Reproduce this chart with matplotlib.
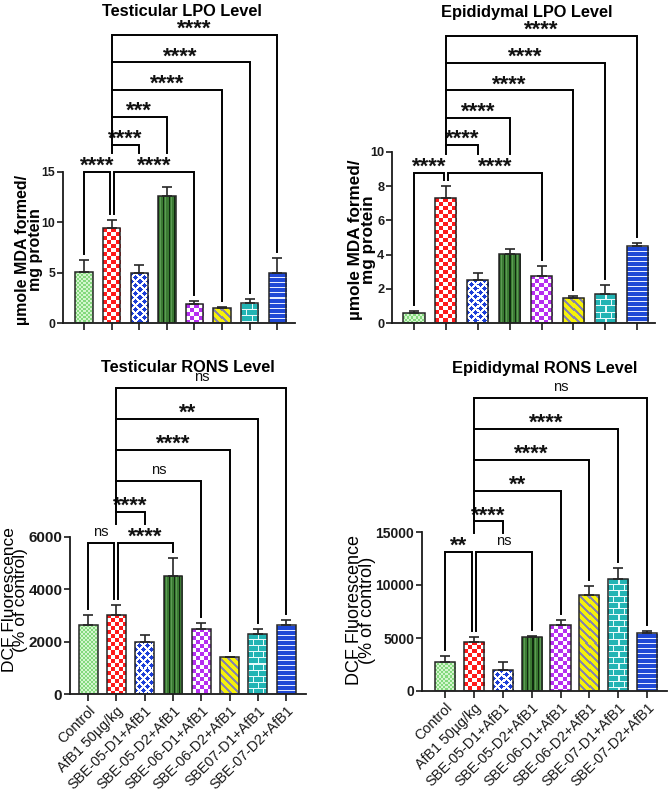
import numpy as np
import matplotlib
matplotlib.use('Agg')
import matplotlib.pyplot as plt
from matplotlib.colors import to_rgb
from matplotlib.transforms import offset_copy

plt.rcParams['font.family'] = ['Liberation Sans', 'DejaVu Sans']

# ---------------- data ----------------
groups_t = ['Control', 'AfB1 50\u00b5g/kg', 'SBE-05-D1+AfB1', 'SBE-05-D2+AfB1',
            'SBE-06-D1+AfB1', 'SBE-06-D2+AfB1', 'SBE07-D1+AfB1', 'SBE-07-D2+AfB1']
groups_e = ['Control', 'AfB1 50\u00b5g/kg', 'SBE-05-D1+AfB1', 'SBE-05-D2+AfB1',
            'SBE-06-D1+AfB1', 'SBE-06-D2+AfB1', 'SBE-07-D1+AfB1', 'SBE-07-D2+AfB1']

tlpo_mean = [5.05, 9.4, 4.95, 12.65, 1.85, 1.45, 1.95, 5.0]
tlpo_sem = [1.2, 0.85, 0.85, 0.85, 0.3, 0.12, 0.45, 1.45]
elpo_mean = [0.6, 7.3, 2.5, 4.05, 2.75, 1.45, 1.7, 4.5]
elpo_sem = [0.08, 0.72, 0.42, 0.3, 0.6, 0.15, 0.55, 0.15]
trons_mean = [2620, 3020, 2000, 4500, 2500, 1400, 2300, 2620]
trons_sem = [400, 400, 250, 680, 230, 30, 200, 220]
erons_mean = [2740, 4650, 1980, 5060, 6200, 9060, 10570, 5440]
erons_sem = [560, 410, 790, 130, 500, 880, 1070, 220]

# comparisons: (group i, group j, label), with stacking level
tlpo_sig = [(0, 1, '****'), (1, 4, '****'), (1, 2, '****'), (1, 3, '***'),
            (1, 5, '****'), (1, 6, '****'), (1, 7, '****')]
elpo_sig = [(0, 1, '****'), (1, 4, '****'), (1, 2, '****'), (1, 3, '****'),
            (1, 5, '****'), (1, 6, '****'), (1, 7, '****')]
trons_sig = [(0, 1, 'ns'), (1, 3, '****'), (1, 2, '****'), (1, 4, 'ns'),
             (1, 5, '****'), (1, 6, '**'), (1, 7, 'ns')]
erons_sig = [(0, 1, '**'), (1, 3, 'ns'), (1, 2, '****'), (1, 4, '**'),
             (1, 5, '****'), (1, 6, '****'), (1, 7, 'ns')]
sig_levels = [0, 0, 1, 2, 3, 4, 5]

# ---------------- figure ----------------
W, H = 670, 795
fig = plt.figure(figsize=(W / 100, H / 100), dpi=100)


def add_axes_px(l, r, b, t):
    return fig.add_axes([l / W, 1 - b / H, (r - l) / W, (b - t) / H])


def make_pattern(k, w, h):
    i = np.arange(h)[:, None]
    j = np.arange(w)[None, :]
    img = np.ones((h, w, 3))

    def paint(mask, c):
        img[np.broadcast_to(mask, (h, w))] = to_rgb(c)

    if k == 0:   # light green fine checker
        img[:] = to_rgb('#d4f6ce')
        paint(((i // 2 + j // 2) % 2) == 0, '#84d97d')
    elif k == 1:  # red / white checker
        img[:] = to_rgb('#ffffff')
        paint(((i // 4 + j // 4) % 2) == 0, '#ff1a1a')
    elif k == 2:  # blue diamonds on white
        img[:] = to_rgb('#ffffff')
        a, b = (i % 8) - 4, (j % 8) - 4
        a2, b2 = ((i + 4) % 8) - 4, ((j + 4) % 8) - 4
        paint((np.abs(a) + np.abs(b) <= 2) | (np.abs(a2) + np.abs(b2) <= 2), '#1d3fd8')
    elif k == 3:  # dark green vertical stripes
        img[:] = to_rgb('#3b7a33')
        paint((j % 5) == 0, '#0f2a0f')
        paint((j % 5) == 2, '#5c9c54')
    elif k == 4:  # purple / white checker
        img[:] = to_rgb('#ffffff')
        paint(((i // 4 + j // 4) % 2) == 0, '#b52ef0')
    elif k == 5:  # yellow with diagonal gray stripes
        img[:] = to_rgb('#f6f20a')
        paint(((i - j) % 8) < 3, '#8a86a8')
    elif k == 6:  # teal brick
        img[:] = to_rgb('#22b4b4')
        row = i // 6
        paint((i % 6) == 0, '#e8fbfb')
        paint(((j + 5 * (row % 2)) % 10) == 0, '#e8fbfb')
    else:        # blue horizontal stripes
        img[:] = to_rgb('#1f48d6')
        paint((i % 5) == 0, '#e6ecff')
    return img


def draw_panel(cfg, means, sems, sig, xlabels=None):
    ax = add_axes_px(*cfg['px'])
    means = np.asarray(means, float)
    sems = np.asarray(sems, float)
    x = np.arange(len(means))
    ytop = cfg['yticks'][-1]
    ax.set_xlim(*cfg['xlim'])
    ax.set_ylim(0, ytop)
    bars = ax.bar(x, means, width=cfg['bw'], facecolor='none',
                  edgecolor='#262626', linewidth=1.1, zorder=3)
    for k, b in enumerate(bars):
        bb = b.get_window_extent()
        w = max(int(round(bb.width)), 1)
        h = max(int(round(bb.height)), 1)
        im = ax.imshow(make_pattern(k, w, h),
                       extent=(b.get_x(), b.get_x() + b.get_width(), 0, b.get_height()),
                       aspect='auto', interpolation='nearest', origin='upper', zorder=2)
        im.set_clip_path(b)
    ax.errorbar(x, means, yerr=[np.zeros_like(sems), sems], fmt='none',
                ecolor='#262626', elinewidth=1.2, capsize=3.6, capthick=1.2, zorder=2.5)
    ax.set_xlim(*cfg['xlim'])
    ax.set_ylim(0, ytop)

    for s in ['top', 'right']:
        ax.spines[s].set_visible(False)
    for s in ['left', 'bottom']:
        ax.spines[s].set_linewidth(1.3)
        ax.spines[s].set_color('#1a1a1a')
    ax.spines['left'].set_bounds(0, ytop)
    ax.set_yticks(cfg['yticks'])
    ax.tick_params(axis='y', direction='out', length=4, width=1.2, colors='#1a1a1a',
                   labelsize=cfg['ytick_fs'], pad=1.5)
    for lab in ax.get_yticklabels():
        lab.set_fontweight('bold')
    ax.set_xticks(x)
    ax.tick_params(axis='x', direction='out', length=5, width=1.2, colors='#1a1a1a')
    if xlabels is None:
        ax.set_xticklabels([])
    else:
        ax.set_xticklabels(xlabels, rotation=45, ha='right', va='top',
                           rotation_mode='anchor', fontsize=10.3)
        ax.tick_params(axis='x', pad=2)

    # ---- significance brackets ----
    ax_h_px = (cfg['px'][2] - cfg['px'][3])
    ax_w_px = (cfg['px'][1] - cfg['px'][0])
    dpp = ytop / ax_h_px
    xpp = (cfg['xlim'][1] - cfg['xlim'][0]) / ax_w_px
    ys = [cfg['base'] + lev * cfg['step'] * dpp for lev in sig_levels]
    label_h = 13 * dpp
    gap = 6 * dpp
    lw_px = {'****': 38, '***': 29, '**': 19, 'ns': 15}
    errtop = means + sems
    off = 0.07

    for n, ((i, j, lab), y, lev) in enumerate(zip(sig, ys, sig_levels)):
        def leg_bottom(k):
            cand = errtop[k] + gap
            for (i2, j2, lab2), y2, lev2 in zip(sig, ys, sig_levels):
                if y2 >= y:
                    continue
                half = lw_px[lab2] * xpp / 2
                covers = abs(k - (i2 + j2) / 2) <= half
                if k in (i2, j2) and lev2 >= 1:
                    cand = max(cand, y2)
                elif covers or (i2 <= k <= j2):
                    cand = max(cand, y2 + label_h + gap)
            return cand
        xi, xj = float(i), float(j)
        if lev == 0:
            if i == 1:
                xi += off
            if j == 1:
                xj -= off
        ax.plot([xi, xi, xj, xj], [leg_bottom(i), y, y, leg_bottom(j)],
                color='black', lw=1.4, clip_on=False, zorder=4,
                solid_joinstyle='miter')
        if lab == 'ns':
            tr = offset_copy(ax.transData, fig=fig, y=7.5, units='dots')
            ax.text((xi + xj) / 2, y, lab, transform=tr, ha='center', va='baseline',
                    fontsize=10.5, color='#111111', clip_on=False)
        else:
            tr = offset_copy(ax.transData, fig=fig, y=0, units='dots')
            ax.text((xi + xj) / 2, y, lab, transform=tr, ha='center', va='baseline',
                    fontsize=16, fontweight='bold', color='#111111', clip_on=False)
    return ax


cfgA = dict(px=(63, 295, 323, 172), xlim=(-0.76, 7.64), bw=0.63,
            yticks=[0, 5, 10, 15], ytick_fs=8.8, base=15, step=27.4)
cfgB = dict(px=(392, 655, 323, 152), xlim=(-0.69, 7.56), bw=0.66,
            yticks=[0, 2, 4, 6, 8, 10], ytick_fs=9.2, base=8.8, step=27.4)
cfgC = dict(px=(70, 306, 694, 537), xlim=(-0.64, 7.70), bw=0.67,
            yticks=[0, 2000, 4000, 6000], ytick_fs=11, base=5770, step=31)
cfgD = dict(px=(422, 667, 691, 532), xlim=(-0.80, 7.69), bw=0.70,
            yticks=[0, 5000, 10000, 15000], ytick_fs=10, base=13100, step=30.8)

draw_panel(cfgA, tlpo_mean, tlpo_sem, tlpo_sig)
draw_panel(cfgB, elpo_mean, elpo_sem, elpo_sig)
draw_panel(cfgC, trons_mean, trons_sem, trons_sig, groups_t)
draw_panel(cfgD, erons_mean, erons_sem, erons_sig, groups_e)


def ftext(xpx, ypx, s, **kw):
    fig.text(xpx / W, 1 - ypx / H, s, ha='center', va='center', **kw)


ftext(182, 12, 'Testicular LPO Level', fontsize=11.8, fontweight='bold')
ftext(527, 12, 'Epididymal LPO Level', fontsize=11.8, fontweight='bold')
ftext(188, 368, 'Testicular RONS Level', fontsize=11.8, fontweight='bold')
ftext(545, 369, 'Epididymal RONS Level', fontsize=11.8, fontweight='bold')

ftext(29, 250, '\u00b5mole MDA formed/\nmg protein', fontsize=11.5, fontweight='bold',
      rotation=90, linespacing=0.78, multialignment='center')
ftext(362, 240, '\u00b5mole MDA formed/\nmg protein', fontsize=12.3, fontweight='bold',
      rotation=90, linespacing=0.78, multialignment='center')
ftext(15, 600, 'DCF Fluorescence\n(% of control)', fontsize=12.5,
      rotation=90, linespacing=0.7, multialignment='center')
ftext(361, 610, 'DCF Fluorescence\n(% of control)', fontsize=13,
      rotation=90, linespacing=0.7, multialignment='center')

fig.savefig('out.png', dpi=100, facecolor='white')
